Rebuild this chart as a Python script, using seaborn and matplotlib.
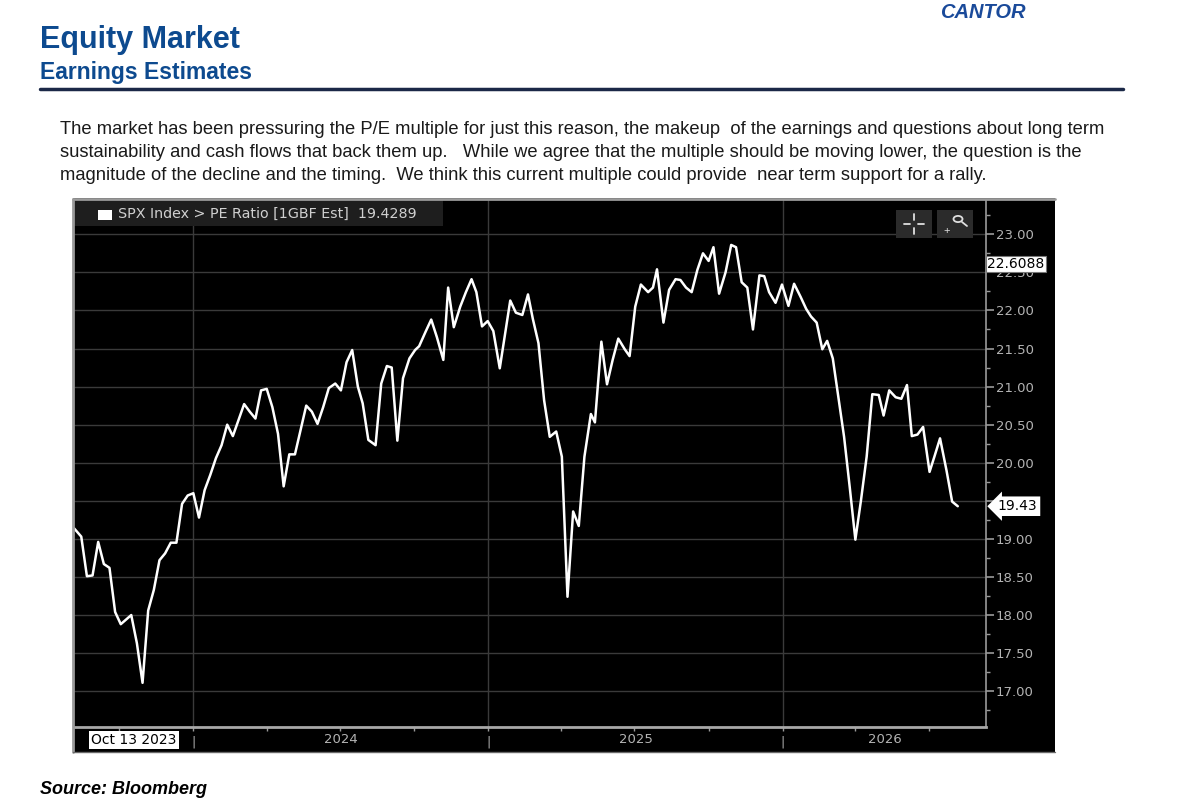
import matplotlib
matplotlib.use("Agg")
import matplotlib.pyplot as plt
from matplotlib.patches import Rectangle, Circle
from matplotlib.lines import Line2D
from matplotlib.ticker import FormatStrFormatter
import numpy as np
import pandas as pd
import seaborn as sns

# SPX forward P/E, weekly readings taken off the Bloomberg screen
dates = [
    "2023-08-06", "2023-08-15", "2023-08-22", "2023-08-29", "2023-09-05", "2023-09-12",
    "2023-09-19", "2023-09-26", "2023-10-03", "2023-10-16", "2023-10-23", "2023-10-30",
    "2023-11-06", "2023-11-13", "2023-11-20", "2023-11-27", "2023-12-04", "2023-12-11",
    "2023-12-18", "2023-12-25", "2024-01-01", "2024-01-08", "2024-01-15", "2024-01-22",
    "2024-01-29", "2024-02-05", "2024-02-12", "2024-02-19", "2024-02-26", "2024-03-04",
    "2024-03-11", "2024-03-18", "2024-03-25", "2024-04-01", "2024-04-08", "2024-04-15",
    "2024-04-22", "2024-04-29", "2024-05-06", "2024-05-20", "2024-05-27", "2024-06-03",
    "2024-06-10", "2024-06-17", "2024-06-25", "2024-07-02", "2024-07-09", "2024-07-16",
    "2024-07-23", "2024-07-29", "2024-08-05", "2024-08-14", "2024-08-21", "2024-08-28",
    "2024-09-03", "2024-09-10", "2024-09-17", "2024-09-25", "2024-10-02", "2024-10-07",
    "2024-10-15", "2024-10-22", "2024-10-29", "2024-11-06", "2024-11-12", "2024-11-19",
    "2024-11-27", "2024-12-04", "2024-12-11", "2024-12-17", "2024-12-24", "2024-12-31",
    "2025-01-07", "2025-01-15", "2025-01-28", "2025-02-04", "2025-02-12", "2025-02-19",
    "2025-02-25", "2025-03-04", "2025-03-11", "2025-03-18", "2025-03-26", "2025-04-02",
    "2025-04-09", "2025-04-16", "2025-04-23", "2025-04-30", "2025-05-08", "2025-05-13",
    "2025-05-21", "2025-05-28", "2025-06-04", "2025-06-11", "2025-06-19", "2025-06-25",
    "2025-07-02", "2025-07-09", "2025-07-18", "2025-07-24", "2025-07-29", "2025-08-06",
    "2025-08-13", "2025-08-21", "2025-08-27", "2025-09-03", "2025-09-10", "2025-09-17",
    "2025-09-24", "2025-10-01", "2025-10-07", "2025-10-14", "2025-10-22", "2025-10-29",
    "2025-11-04", "2025-11-11", "2025-11-18", "2025-11-25", "2025-12-03", "2025-12-09",
    "2025-12-15", "2025-12-23", "2025-12-31", "2026-01-08", "2026-01-15", "2026-01-23",
    "2026-01-30", "2026-02-05", "2026-02-12", "2026-02-19", "2026-02-25", "2026-03-04",
    "2026-03-11", "2026-03-18", "2026-03-25", "2026-04-01", "2026-04-08", "2026-04-15",
    "2026-04-22", "2026-04-30", "2026-05-06", "2026-05-13", "2026-05-21", "2026-05-28",
    "2026-06-04", "2026-06-10", "2026-06-17", "2026-06-24", "2026-07-02", "2026-07-08",
    "2026-07-15", "2026-07-23", "2026-07-30", "2026-08-06",
]
pe_ratio = [
    19.14, 19.03, 18.51, 18.52, 18.96, 18.67,
    18.62, 18.04, 17.88, 18.00, 17.63, 17.11,
    18.06, 18.33, 18.72, 18.81, 18.95, 18.95,
    19.46, 19.57, 19.60, 19.28, 19.64, 19.84,
    20.06, 20.23, 20.50, 20.35, 20.56, 20.77,
    20.67, 20.58, 20.95, 20.97, 20.73, 20.38,
    19.69, 20.11, 20.11, 20.75, 20.67, 20.51,
    20.73, 20.98, 21.04, 20.95, 21.32, 21.48,
    21.00, 20.78, 20.30, 20.23, 21.04, 21.27,
    21.25, 20.29, 21.11, 21.37, 21.48, 21.53,
    21.72, 21.88, 21.65, 21.35, 22.30, 21.78,
    22.05, 22.24, 22.41, 22.24, 21.79, 21.86,
    21.73, 21.24, 22.13, 21.97, 21.94, 22.21,
    21.89, 21.57, 20.82, 20.34, 20.41, 20.08,
    18.24, 19.36, 19.17, 20.08, 20.64, 20.53,
    21.59, 21.03, 21.35, 21.63, 21.49, 21.40,
    22.05, 22.34, 22.24, 22.30, 22.54, 21.84,
    22.27, 22.41, 22.40, 22.30, 22.24, 22.53,
    22.75, 22.65, 22.83, 22.22, 22.50, 22.86,
    22.83, 22.37, 22.30, 21.75, 22.46, 22.45,
    22.24, 22.10, 22.34, 22.06, 22.35, 22.18,
    22.02, 21.92, 21.84, 21.49, 21.60, 21.37,
    20.86, 20.34, 19.68, 18.99, 19.51, 20.08,
    20.90, 20.89, 20.62, 20.95, 20.86, 20.84,
    21.02, 20.35, 20.37, 20.47, 19.88, 20.08,
    20.32, 19.90, 19.49, 19.4289,
]

series_name = "SPX Index > PE Ratio [1GBF Est]"
last_value = 19.4289
cursor_value = 22.6088
start_label = "Oct 13 2023"
y_major = np.arange(17.0, 23.01, 0.5)
y_minor = np.arange(16.75, 23.3, 0.5)

title = "Equity Market"
subtitle = "Earnings Estimates"
body = [
    "The market has been pressuring the P/E multiple for just this reason, the makeup  of the earnings and questions about long term",
    "sustainability and cash flows that back them up.   While we agree that the multiple should be moving lower, the question is the",
    "magnitude of the decline and the timing.  We think this current multiple could provide  near term support for a rally.",
]
source = "Source: Bloomberg"

W, H = 1186, 811
BLUE = "#0d4a8f"
GRID = "#3a3a3a"
TICK = "#b4b4b4"

sns.set_style("dark")
plt.rcParams["font.family"] = ["Liberation Sans", "DejaVu Sans"]


def fx(px):
    return px / W


def fy(py):
    return 1 - py / H


fig = plt.figure(figsize=(W / 100, H / 100), dpi=100)
fig.patch.set_facecolor("white")

# header
fig.text(fx(983), fy(12), "CANTOR", color="#1a4a9a", fontsize=14.5, fontweight="bold",
         fontstyle="italic", ha="center", va="center")
fig.text(fx(40), fy(40), title, color=BLUE, fontsize=22, fontweight="bold", va="center")
fig.text(fx(40), fy(72), subtitle, color=BLUE, fontsize=16.5, fontweight="bold", va="center")
fig.add_artist(Line2D([fx(40), fx(1123)], [fy(89), fy(89)], color="#1b2847", lw=2.5))
for i, line in enumerate(body):
    fig.text(fx(60), fy(130 + 22.5 * i), line, color="#1a1a1a", fontsize=13.2, va="center")
fig.text(fx(40), fy(790), source, color="black", fontsize=13, fontweight="bold",
         fontstyle="italic", va="center")

# black terminal panel
fig.add_artist(Rectangle((fx(73), fy(752)), (1055 - 73) / W, (752 - 198) / H,
                         transform=fig.transFigure, fc="black", ec="none", zorder=0))
fig.add_artist(Line2D([fx(73), fx(1055)], [fy(199), fy(199)], color="#9a9a9a", lw=2))
fig.add_artist(Line2D([fx(73), fx(73)], [fy(199), fy(752)], color="#9a9a9a", lw=2))
fig.add_artist(Line2D([fx(73), fx(1055)], [fy(752), fy(752)], color="#6a6a6a", lw=1))

ax = fig.add_axes([fx(74), fy(727), (986 - 74) / W, (727 - 200) / H])
ax.set_facecolor("black")

df = pd.DataFrame({"date": pd.to_datetime(dates), "pe": pe_ratio})
sns.lineplot(data=df, x="date", y="pe", ax=ax, color="white", lw=1.8, zorder=4)

x0, x1 = pd.Timestamp("2023-08-06"), pd.Timestamp("2026-09-10")
ax.set_xlim(x0, x1)
ax.set_ylim(16.53, 23.45)
ax.set_xlabel("")
ax.set_ylabel("")

# y axis on the right, Bloomberg style
ax.yaxis.tick_right()
ax.set_yticks(y_major)
ax.set_yticks(y_minor, minor=True)
# the 19.50 label sits under the last-value flag on the terminal, so leave it blank
ax.set_yticklabels(["" if abs(v - 19.5) < 1e-9 else f"{v:.2f}" for v in y_major])
ax.tick_params(axis="y", which="major", length=6, width=1.2, color="#9a9a9a",
               labelcolor=TICK, labelsize=9.5, pad=1, right=True, left=False)
ax.tick_params(axis="y", which="minor", length=3, width=1, color="#9a9a9a", right=True, left=False)

# x axis: year boundaries as "|" and quarter ticks
year_starts = [pd.Timestamp(f"{y}-01-01") for y in range(2024, 2027)]
quarters = [d for d in pd.date_range(x0, x1, freq="QS") if d.month != 1]
ax.set_xticks(year_starts)
ax.set_xticklabels(["|"] * len(year_starts))
ax.set_xticks(quarters, minor=True)
ax.tick_params(axis="x", which="both", length=3, width=1, color="#9a9a9a",
               labelcolor=TICK, labelsize=9, pad=3, bottom=True)
for y in range(2024, 2027):
    a = max(pd.Timestamp(f"{y}-01-01"), x0)
    b = min(pd.Timestamp(f"{y + 1}-01-01"), x1)
    ax.text(a + (b - a) / 2, -0.024, str(y), transform=ax.get_xaxis_transform(),
            color=TICK, fontsize=9.5, ha="center", va="center", family="DejaVu Sans")

ax.grid(axis="y", which="major", color=GRID, lw=1)
ax.grid(axis="x", which="major", color=GRID, lw=1)
for s in ["top", "left"]:
    ax.spines[s].set_visible(False)
ax.spines["right"].set_color("#9a9a9a")
ax.spines["right"].set_linewidth(1.2)
ax.spines["bottom"].set_color("#a8a8a8")
ax.spines["bottom"].set_linewidth(2)
for lab in ax.get_xticklabels() + ax.get_yticklabels():
    lab.set_family("DejaVu Sans")

# legend strip
ax.add_patch(Rectangle((0, 1 - 26 / 527), (443 - 74) / 912, 26 / 527, transform=ax.transAxes,
                       fc="#1e1e1e", ec="none", zorder=5))
ax.add_patch(Rectangle(((98 - 74) / 912, 1 - 20 / 527), 14 / 912, 10 / 527, transform=ax.transAxes,
                       fc="white", ec="none", zorder=6))
ax.text((118 - 74) / 912, 1 - 14 / 527, f"{series_name}  {last_value:.4f}", transform=ax.transAxes,
        color="#d0d0d0", fontsize=10.3, va="center", family="DejaVu Sans", zorder=6)

# value flags on the price axis
ax.text(1.001, cursor_value, f"{cursor_value:.4f}", transform=ax.get_yaxis_transform(),
        color="black", fontsize=10, va="center", ha="left", family="DejaVu Sans", zorder=7,
        bbox=dict(boxstyle="square,pad=0.1", fc="white", ec="#777777", lw=0.8), clip_on=False)
ax.text(1.013, last_value, f"{last_value:.2f}", transform=ax.get_yaxis_transform(),
        color="black", fontsize=10, va="center", ha="left", family="DejaVu Sans", zorder=7,
        bbox=dict(boxstyle="larrow,pad=0.2", fc="white", ec="none"), clip_on=False)

fig.text(fx(134), fy(740), start_label, color="black", fontsize=10, ha="center", va="center",
         family="DejaVu Sans", bbox=dict(boxstyle="square,pad=0.15", fc="white", ec="none"))

# chart tool buttons
for bx in (896, 937):
    fig.add_artist(Rectangle((fx(bx), fy(238)), 36 / W, 28 / H, transform=fig.transFigure,
                             fc="#2b2b2b", ec="none", zorder=8))
icon = dict(color="#e0e0e0", lw=1.3, zorder=9)
fig.add_artist(Line2D([fx(904), fx(910)], [fy(224), fy(224)], **icon))
fig.add_artist(Line2D([fx(918), fx(924)], [fy(224), fy(224)], **icon))
fig.add_artist(Line2D([fx(914), fx(914)], [fy(214), fy(220)], **icon))
fig.add_artist(Line2D([fx(914), fx(914)], [fy(228), fy(234)], **icon))
fig.add_artist(Circle((fx(958), fy(219)), 4.5 / W, transform=fig.transFigure,
                      fill=False, ec="#e0e0e0", lw=1.3, zorder=9))
fig.add_artist(Line2D([fx(962), fx(967)], [fy(222), fy(226)], **icon))
fig.text(fx(947), fy(231), "+", color="#e0e0e0", fontsize=8, ha="center", va="center", zorder=9)

fig.savefig("out.png", dpi=100, facecolor="white")
